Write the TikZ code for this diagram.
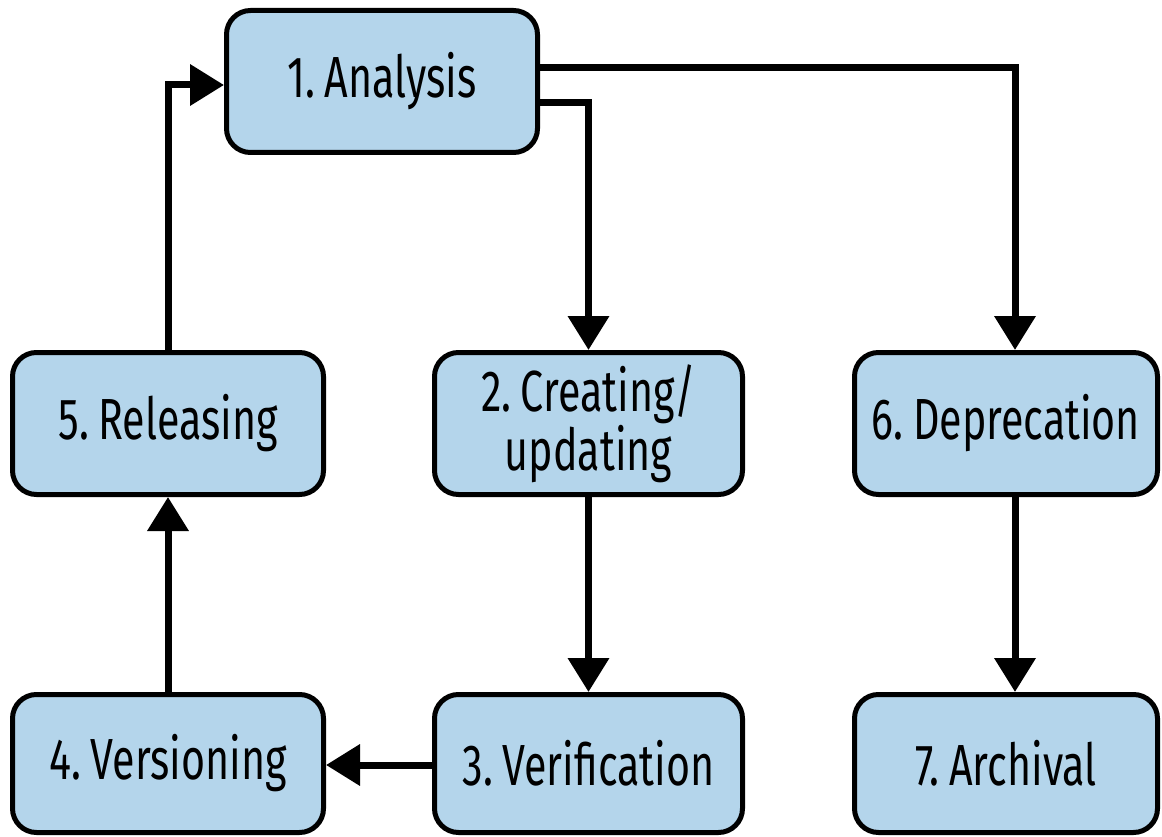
\documentclass[tikz,border=0pt]{standalone}
\usepackage{fontspec}
\setmainfont{Fira Sans}[FakeStretch=0.71, WordSpace=0.55]
\usetikzlibrary{arrows.meta}
\definecolor{boxblue}{HTML}{B4D5EB}
\tikzset{
  stage/.style={draw=black, line width=5pt, fill=boxblue, rounded corners=24pt,
    inner sep=0pt, align=center, font=\fontsize{58}{51}\selectfont},
  flow/.style={line width=7pt, -{Triangle[width=40pt,length=34pt]}}
}
\begin{document}
\begin{tikzpicture}[x=1pt,y=-1pt]
  \useasboundingbox (0,0) rectangle (1162,837);
  % stages
  \node[stage, minimum width=311pt, minimum height=142pt] (ana) at (382,81.5) {1. Analysis};
  \node[stage, minimum width=311pt, minimum height=142pt] (rel) at (168,423.5) {5. Releasing};
  \node[stage, minimum width=308pt, minimum height=142pt] (cre) at (588.5,423.5) {2. Creating/\\updating};
  \node[stage, minimum width=303pt, minimum height=142pt] (dep) at (1006,423.5) {6. Deprecation};
  \node[stage, minimum width=311pt, minimum height=138pt] (ver) at (168,763.5) {4. Versioning};
  \node[stage, minimum width=308pt, minimum height=138pt] (vfy) at (588.5,763.5) {3. Verification};
  \node[stage, minimum width=303pt, minimum height=138pt] (arc) at (1006,763.5) {7. Archival};
  % connectors
  \coordinate (anaTop) at (ana.east |- 0,68);
  \coordinate (anaLow) at (ana.east |- 0,103);
  \draw[flow] (anaTop) -| (dep.north -| 1015,0);
  \draw[flow] (anaLow) -| (cre.north);
  \draw[flow] (cre.south) -- (vfy.north);
  \draw[flow] (dep.south -| 1015,0) -- (arc.north -| 1015,0);
  \draw[flow] (vfy.west |- 0,765) -- (ver.east |- 0,765);
  \draw[flow] (ver.north) -- (rel.north |- rel.south);
  \draw[flow] (rel.north) |- (ana.west |- 0,85);
\end{tikzpicture}
\end{document}
